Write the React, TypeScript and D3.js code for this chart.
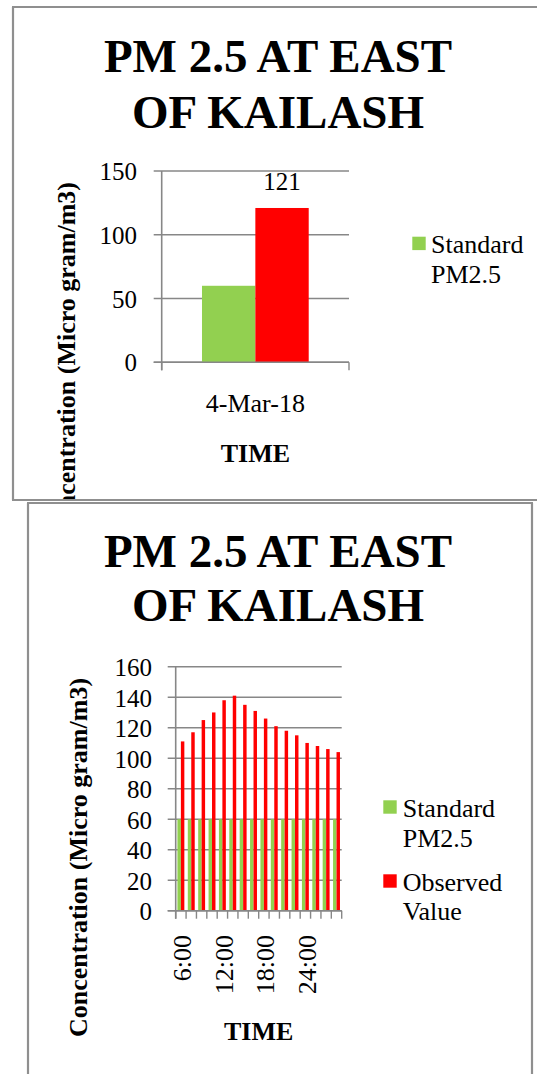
import React from "react";
import * as d3 from "d3";

// ---------- DATA ----------
const titleLines = ["PM 2.5 AT EAST", "OF KAILASH"];
const yTitle = "Concentration (Micro gram/m3)";
const xTitle = "TIME";
const seriesNames = ["Standard PM2.5", "Observed Value"];

const topCategories = ["4-Mar-18"];
const topStandard = [60];
const topObserved = [121];
const topTicks = [0, 50, 100, 150];

const bottomCategories = [
  "6:00", "7:30", "9:00", "10:30", "12:00", "13:30", "15:00", "16:30",
  "18:00", "19:30", "21:00", "22:30", "24:00", "1:30", "3:00", "4:30",
];
const bottomStandard = [60, 60, 60, 60, 60, 60, 60, 60, 60, 60, 60, 60, 60, 60, 60, 60];
const bottomObserved = [111, 117, 125, 130, 138, 141, 135, 131, 126, 121, 118, 115, 110, 108, 106, 104];
const bottomTicks = [0, 20, 40, 60, 80, 100, 120, 140, 160];
const bottomShownLabels = ["6:00", "12:00", "18:00", "24:00"];

// ---------- STYLE ----------
const FONT = "'Liberation Serif', 'Times New Roman', serif";
const GREEN = "#92D050";
const RED = "#FF0000";
const GRID = "#878787";
const BORDER = "#8f8f8f";

type PanelProps = {
  categories: string[];
  standard: number[];
  observed: number[];
  ticks: number[];
  yMax: number;
  left: number;
  right: number;
  yTop: number;
  yBottom: number;
  gapRatio: number;
};

function Bars(p: PanelProps & { showValueLabel: boolean }) {
  const x0 = d3.scaleBand<string>().domain(p.categories).range([p.left, p.right]).padding(0);
  const y = d3.scaleLinear().domain([0, p.yMax]).range([p.yBottom, p.yTop]);
  const band = x0.bandwidth();
  const groupW = (band * 2) / (2 + p.gapRatio);
  const x1 = d3.scaleBand<string>().domain(seriesNames).range([0, groupW]).padding(0);
  const rows = p.categories.map((c, i) => ({ c, vals: [p.standard[i], p.observed[i]] }));
  const boundaries = d3.range(p.categories.length + 1).map((i) => p.left + i * band);
  return (
    <g>
      {p.ticks.map((t) => (
        <line key={"g" + t} x1={p.left - 8} x2={p.right} y1={y(t)} y2={y(t)} stroke={GRID} strokeWidth={1.4} />
      ))}
      {rows.map((r) => {
        const gx = (x0(r.c) as number) + (band - groupW) / 2;
        return (
          <g key={r.c}>
            {r.vals.map((v, j) => (
              <rect
                key={j}
                x={gx + (x1(seriesNames[j]) as number)}
                y={y(v)}
                width={x1.bandwidth()}
                height={y(0) - y(v)}
                fill={j === 0 ? GREEN : RED}
              />
            ))}
            {p.showValueLabel && (
              <text
                x={gx + (x1(seriesNames[1]) as number) + x1.bandwidth() / 2}
                y={y(r.vals[1]) - 18}
                textAnchor="middle"
                fontSize={25}
                fontFamily={FONT}
              >
                {r.vals[1]}
              </text>
            )}
          </g>
        );
      })}
      {/* y axis */}
      <line x1={p.left} x2={p.left} y1={p.yTop} y2={p.yBottom + 8} stroke={GRID} strokeWidth={1.6} />
      {/* x axis */}
      <line x1={p.left - 8} x2={p.right} y1={p.yBottom} y2={p.yBottom} stroke={GRID} strokeWidth={1.6} />
      {boundaries.map((bx, i) => (
        <line key={"t" + i} x1={bx} x2={bx} y1={p.yBottom} y2={p.yBottom + 8} stroke={GRID} strokeWidth={1.4} />
      ))}
    </g>
  );
}

function YTickLabels({ ticks, yMax, yTop, yBottom, xRight, dy }: { ticks: number[]; yMax: number; yTop: number; yBottom: number; xRight: number; dy: number }) {
  const y = d3.scaleLinear().domain([0, yMax]).range([yBottom, yTop]);
  return (
    <g>
      {ticks.map((t) => (
        <text key={t} x={xRight} y={y(t) + dy} textAnchor="end" fontSize={25} fontFamily={FONT}>
          {t}
        </text>
      ))}
    </g>
  );
}

export default function App() {
  // top panel geometry
  const tL = 161.7, tR = 349, tTop = 171, tBot = 362.3;
  // bottom panel geometry
  const bL = 175.7, bR = 341.7, bTop = 666.7, bBot = 910.7;
  const xb = d3.scaleBand<string>().domain(bottomCategories).range([bL, bR]);
  const xt = d3.scaleBand<string>().domain(topCategories).range([tL, tR]);

  return (
    <svg
      width={537}
      height={1074}
      style={{ position: "absolute", left: 0, top: 0, background: "#fff" }}
      fontFamily={FONT}
    >
      <defs>
        <clipPath id="topClip">
          <rect x={13} y={7} width={530} height={493} />
        </clipPath>
        <clipPath id="botClip">
          <rect x={28} y={503} width={504} height={580} />
        </clipPath>
      </defs>
      <rect x={0} y={0} width={537} height={1074} fill="#fff" />

      {/* ---------- TOP CHART ---------- */}
      <g clipPath="url(#topClip)">
        {titleLines.map((t, i) => (
          <text key={t} x={278} y={[72, 128.3][i]} textAnchor="middle" fontSize={47} fontWeight="bold">
            {t}
          </text>
        ))}
        <Bars
          categories={topCategories}
          standard={topStandard}
          observed={topObserved}
          ticks={topTicks}
          yMax={150}
          left={tL}
          right={tR}
          yTop={tTop}
          yBottom={tBot}
          gapRatio={1.51}
          showValueLabel={true}
        />
        <YTickLabels ticks={topTicks} yMax={150} yTop={tTop} yBottom={tBot} xRight={137} dy={9} />
        {topCategories.map((c) => (
          <text key={c} x={(xt(c) as number) + xt.bandwidth() / 2} y={411.7} textAnchor="middle" fontSize={26}>
            {c}
          </text>
        ))}
        <text x={(tL + tR) / 2} y={461.7} textAnchor="middle" fontSize={26} fontWeight="bold">
          {xTitle}
        </text>
        <text transform="translate(75,182) rotate(-90)" textAnchor="end" fontSize={26} fontWeight="bold">
          {yTitle}
        </text>
        {/* legend */}
        <rect x={412.3} y={236.7} width={13.4} height={13.4} fill={GREEN} />
        <text x={431} y={253.3} fontSize={26}>Standard</text>
        <text x={431} y={283.3} fontSize={26}>PM2.5</text>
      </g>
      <line x1={13} x2={13} y1={7} y2={500} stroke={BORDER} strokeWidth={2.2} />
      <line x1={12} x2={537} y1={7} y2={7} stroke={BORDER} strokeWidth={2} />
      <line x1={12} x2={537} y1={500} y2={500} stroke={BORDER} strokeWidth={2.2} />

      {/* ---------- BOTTOM CHART ---------- */}
      <g clipPath="url(#botClip)">
        {titleLines.map((t, i) => (
          <text key={t} x={278} y={[566.7, 621][i]} textAnchor="middle" fontSize={47} fontWeight="bold">
            {t}
          </text>
        ))}
        <Bars
          categories={bottomCategories}
          standard={bottomStandard}
          observed={bottomObserved}
          ticks={bottomTicks}
          yMax={160}
          left={bL}
          right={bR}
          yTop={bTop}
          yBottom={bBot}
          gapRatio={1.0}
          showValueLabel={false}
        />
        <YTickLabels ticks={bottomTicks} yMax={160} yTop={bTop} yBottom={bBot} xRight={152} dy={9.5} />
        {bottomShownLabels.map((c) => {
          const cx = (xb(c) as number) + xb.bandwidth() / 2;
          return (
            <text key={c} transform={`translate(${cx + 10.5},935) rotate(-90)`} textAnchor="end" fontSize={26}>
              {c}
            </text>
          );
        })}
        <text x={(bL + bR) / 2} y={1040} textAnchor="middle" fontSize={26} fontWeight="bold">
          {xTitle}
        </text>
        <text transform={`translate(87,857.5) rotate(-90)`} textAnchor="middle" fontSize={26} fontWeight="bold">
          {yTitle}
        </text>
        {/* legend */}
        <rect x={383.3} y={800.3} width={13.4} height={13.4} fill={GREEN} />
        <text x={402.7} y={816.7} fontSize={26}>Standard</text>
        <text x={402.7} y={846.7} fontSize={26}>PM2.5</text>
        <rect x={383.3} y={874.3} width={13.4} height={13.4} fill={RED} />
        <text x={402.7} y={891} fontSize={26}>Observed</text>
        <text x={402.7} y={920} fontSize={26}>Value</text>
      </g>
      <line x1={28} x2={28} y1={503} y2={1074} stroke={BORDER} strokeWidth={2.2} />
      <line x1={27} x2={533} y1={503} y2={503} stroke={BORDER} strokeWidth={2} />
      <line x1={532} x2={532} y1={503} y2={1074} stroke={BORDER} strokeWidth={2.2} />
    </svg>
  );
}
